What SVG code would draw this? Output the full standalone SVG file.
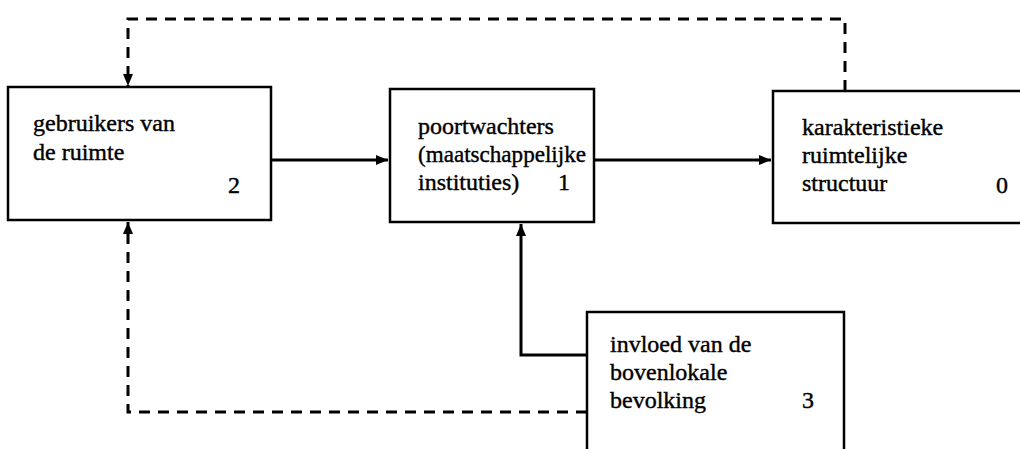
<svg xmlns="http://www.w3.org/2000/svg" width="1020" height="449" viewBox="0 0 1020 449">
<style>
.box{fill:#fff;stroke:#000;stroke-width:2.5}
.t{font-family:'Liberation Serif','DejaVu Serif','Times New Roman',serif;font-size:24px;fill:#000;stroke:#000;stroke-width:0.4}
.solid{fill:none;stroke:#000;stroke-width:3}
.dash{fill:none;stroke:#000;stroke-width:3;stroke-dasharray:11 8}
</style>
<defs>
<marker id="ah" markerUnits="userSpaceOnUse" markerWidth="14" markerHeight="12" refX="12" refY="5" orient="auto">
<path d="M0,0 L12,5 L0,10 Z" fill="#000"/>
</marker>
</defs>
<rect width="1020" height="449" fill="#fff"/>
<g id="connectors">
<path class="solid" d="M272,160 H388" marker-end="url(#ah)"/>
<path class="solid" d="M594,160 H771" marker-end="url(#ah)"/>
<path class="solid" d="M587,355 H521 V224" marker-end="url(#ah)"/>
<path class="dash" d="M845,91 V19 H128 V86" marker-end="url(#ah)"/>
<path class="dash" d="M587,412 H128 V222" marker-end="url(#ah)"/>
</g>
<g id="node2">
<rect class="box" x="8" y="87" width="263" height="133"/>
<text class="t" x="33" y="131">gebruikers van</text>
<text class="t" x="33" y="160">de ruimte</text>
<text class="t" x="228" y="193">2</text>
</g>
<g id="node1">
<rect class="box" x="390" y="89" width="204" height="133"/>
<text class="t" x="418" y="134">poortwachters</text>
<text class="t" x="418" y="162" textLength="168" lengthAdjust="spacingAndGlyphs">(maatschappelijke</text>
<text class="t" x="418" y="190">instituties)</text>
<text class="t" x="558" y="190">1</text>
</g>
<g id="node0">
<rect class="box" x="773" y="91" width="260" height="132"/>
<text class="t" x="802" y="135">karakteristieke</text>
<text class="t" x="802" y="163">ruimtelijke</text>
<text class="t" x="802" y="191">structuur</text>
<text class="t" x="996" y="193">0</text>
</g>
<g id="node3">
<rect class="box" x="587" y="312" width="257" height="150"/>
<text class="t" x="610" y="352">invloed van de</text>
<text class="t" x="610" y="380">bovenlokale</text>
<text class="t" x="610" y="408">bevolking</text>
<text class="t" x="802" y="408">3</text>
</g>
</svg>
